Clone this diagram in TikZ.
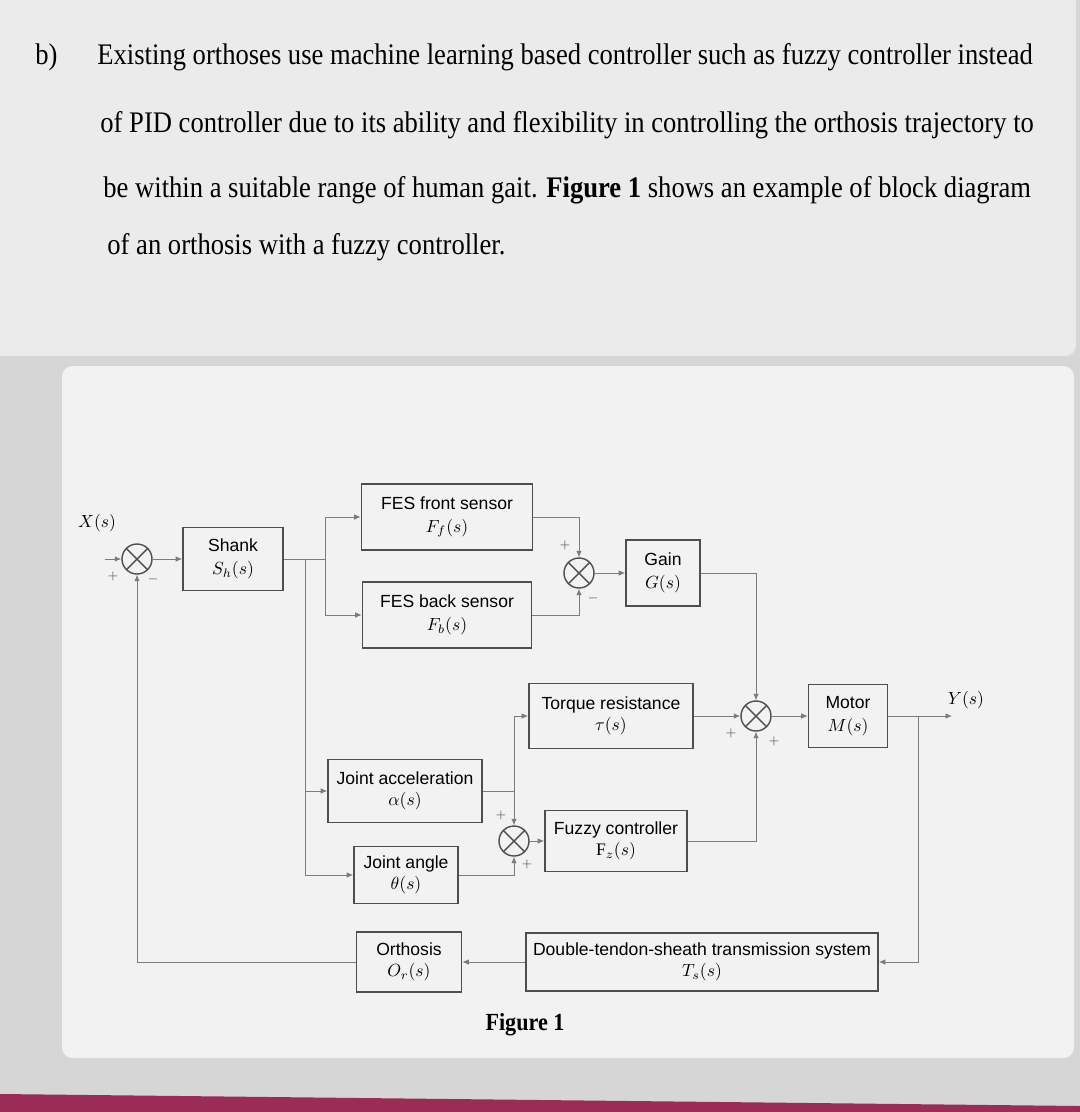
\documentclass[tikz,border=0pt]{standalone}
\usepackage{fontspec}
\setmainfont{Liberation Serif}
\setsansfont{Liberation Sans}
\usetikzlibrary{arrows.meta, calc}
\definecolor{cscreen}{HTML}{D6D6D6}
\definecolor{ccard}{HTML}{EBEBEB}
\definecolor{cfig}{HTML}{F2F2F2}
\definecolor{cbezel}{HTML}{9B2C55}
\definecolor{cwire}{HTML}{7C7C7C}
\definecolor{cbox}{HTML}{4E4E4E}
\tikzset{
  every picture/.style={line width=0.5pt},
  block/.style={draw=cbox, line width=0.9pt, align=center, font=\sffamily\fontsize{10}{12}\selectfont, inner sep=2pt},
  sumj/.style={draw=cbox, circle, minimum size=0.6cm, inner sep=0pt, line width=0.8pt,
    path picture={\draw[cbox, line width=0.8pt] (path picture bounding box.north west) -- (path picture bounding box.south east)
      (path picture bounding box.north east) -- (path picture bounding box.south west);}},
  sig/.style={-{Latex[length=1.3mm, width=1.1mm]}, draw=cwire},
  wire/.style={draw=cwire},
  sign/.style={font=\scriptsize, text=cbox, inner sep=1pt},
  paraline/.style={anchor=base west, inner sep=0pt, font=\fontsize{17}{20}\selectfont},
}

\begin{document}
\begin{tikzpicture}[x=0.2mm, y=-0.2mm]
  \useasboundingbox (0,0) rectangle (1080,1112);
  \fill[cscreen] (0,0) rectangle (1080,1112);
  \fill[ccard, rounded corners=6pt] (-10,-10) rectangle (1076,356);
  \fill[cfig, rounded corners=6pt] (62,366) rectangle (1074,1058);
  \fill[cbezel] (0,1094) -- (1080,1106) -- (1080,1112) -- (0,1112) -- cycle;

  \node[paraline] (qlabel) at (35,64) {\scalebox{0.89}[1]{b)}};
  \node[paraline] (line1) at (97,64) {\scalebox{0.89}[1]{Existing orthoses use machine learning based controller such as fuzzy controller instead}};
  \node[paraline] (line2) at (100,132) {\scalebox{0.89}[1]{of PID controller due to its ability and flexibility in controlling the orthosis trajectory to}};
  \node[paraline] (line3) at (103,197) {\scalebox{0.89}[1]{be within a suitable range of human gait. \textbf{Figure 1} shows an example of block diagram}};
  \node[paraline] (line4) at (107,254) {\scalebox{0.89}[1]{of an orthosis with a fuzzy controller.}};

  \node[sumj] (sum1) at (137,559) {};
  \node[block, minimum width=2cm, minimum height=1.26cm] (shank) at (233,559) {Shank\\[1pt] $S_h(s)$};
  \node[block, minimum width=3.42cm, minimum height=1.32cm] (fesf) at (447,517) {FES front sensor\\[1pt] $F_f(s)$};
  \node[block, minimum width=3.38cm, minimum height=1.32cm] (fesb) at (447,615) {FES back sensor\\[1pt] $F_b(s)$};
  \node[sumj] (sum2) at (579,573) {};
  \node[block, minimum width=1.48cm, minimum height=1.32cm] (gain) at (663,573) {Gain\\[1pt] $G(s)$};
  \node[block, minimum width=3.28cm, minimum height=1.3cm] (torq) at (611,716) {Torque resistance\\ $\tau(s)$};
  \node[sumj] (sum3) at (756,716) {};
  \node[block, minimum width=1.58cm, minimum height=1.26cm] (motor) at (848,716) {Motor\\[1pt] $M(s)$};
  \node[block, minimum width=3.08cm, minimum height=1.26cm] (jacc) at (405,791) {Joint acceleration\\ $\alpha(s)$};
  \node[block, minimum width=2.08cm, minimum height=1.14cm] (jang) at (406,875) {Joint angle\\ $\theta(s)$};
  \node[sumj] (sum4) at (514,841) {};
  \node[block, minimum width=2.84cm, minimum height=1.22cm] (fuzzy) at (616,841) {Fuzzy controller\\ $\mathrm{F}_z(s)$};
  \node[block, minimum width=2.1cm, minimum height=1.2cm] (orth) at (409,962) {Orthosis\\ $O_r(s)$};
  \node[block, minimum width=7.04cm, minimum height=1.16cm] (dts) at (702,962) {Double-tendon-sheath transmission system\\ $T_s(s)$};

  \node (xlab) at (97,523) {$X(s)$};
  \node (ylab) at (966,700) {$Y(s)$};
  \node[font=\fontsize{14}{16}\selectfont\bfseries] (figcap) at (525,1025) {\scalebox{0.9}[1]{Figure 1}};

  \coordinate (xin) at (105,559);
  \coordinate (sp1) at (305,559);
  \coordinate (sp2) at (325,559);
  \coordinate (sp3) at (514,791);
  \coordinate (sp5) at (918,716);
  \coordinate (yout) at (952,716);

  \draw[sig] (xin) -- (sum1.west);
  \draw[sig] (sum1) -- (shank);
  \draw[wire] (shank.east) -- (sp2);
  \draw[sig] (sp2) |- (fesf.west);
  \draw[sig] (sp2) |- (fesb.west);
  \draw[sig] (sp1) |- (jang.west);
  \draw[sig] (sp1 |- jacc.west) -- (jacc.west);
  \draw[sig] (fesf.east) -| (sum2.north);
  \draw[sig] (fesb.east) -| (sum2.south);
  \draw[sig] (sum2) -- (gain);
  \draw[sig] (gain.east) -| (sum3.north);
  \draw[sig] (torq) -- (sum3);
  \draw[sig] (sum3) -- (motor);
  \draw[sig] (motor.east) -- (yout);
  \draw[sig] (sp5) |- (dts.east);
  \draw[sig] (dts) -- (orth);
  \draw[sig] (orth.west) -| (sum1.south);
  \draw[wire] (jacc.east) -- (sp3);
  \draw[sig] (sp3) |- (torq.west);
  \draw[sig] (sp3) -- (sum4.north);
  \draw[sig] (jang.east) -| (sum4.south);
  \draw[sig] (sum4) -- (fuzzy);
  \draw[sig] (fuzzy.east) -| (sum3.south);

  \node[sign] (s1a) at (113,576) {$+$};
  \node[sign] (s1b) at (153,579) {$-$};
  \node[sign] (s2a) at (565,545) {$+$};
  \node[sign] (s2b) at (593,598) {$-$};
  \node[sign] (s3a) at (731,733) {$+$};
  \node[sign] (s3b) at (774,741) {$+$};
  \node[sign] (s4a) at (501,815) {$+$};
  \node[sign] (s4b) at (527,864) {$+$};
\end{tikzpicture}
\end{document}
